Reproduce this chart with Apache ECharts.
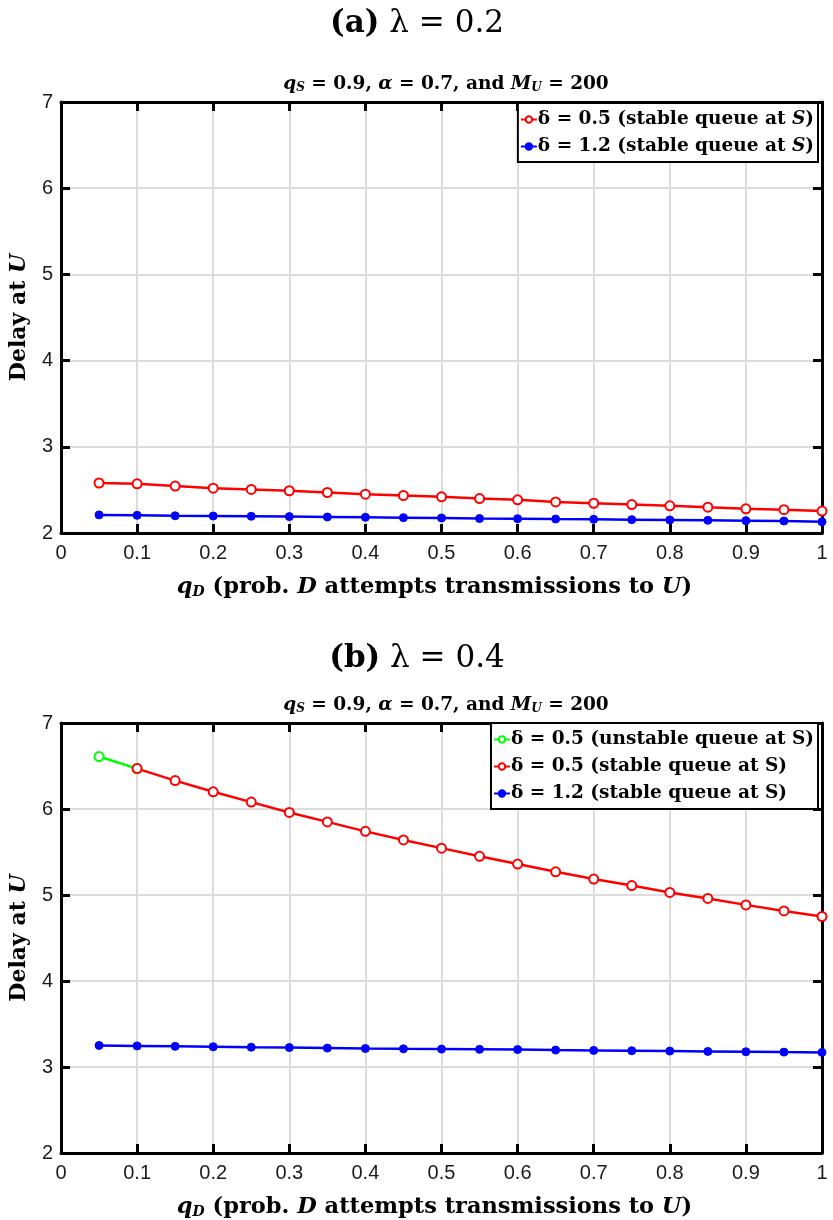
<!DOCTYPE html>
<html><head><meta charset="utf-8">
<script src="https://cdn.jsdelivr.net/npm/echarts@6/dist/echarts.min.js"></script>
<style>html,body{margin:0;padding:0;background:#fff}#c{width:833px;height:1220px}</style>
</head><body><div id="c"></div>
<script>
const qD = [0.05,0.10,0.15,0.20,0.25,0.30,0.35,0.40,0.45,0.50,0.55,0.60,0.65,0.70,0.75,0.80,0.85,0.90,0.95,1.00];
// (a) lambda = 0.2
const aRedDelay  = [2.58,2.57,2.545,2.52,2.505,2.49,2.47,2.45,2.435,2.42,2.40,2.385,2.36,2.345,2.33,2.315,2.30,2.28,2.27,2.255];
const aBlueDelay = [2.21,2.205,2.20,2.197,2.194,2.19,2.186,2.182,2.178,2.174,2.168,2.166,2.162,2.159,2.155,2.151,2.147,2.143,2.139,2.13];
// (b) lambda = 0.4
const bGreenQ     = [0.05,0.10];
const bGreenDelay = [6.61,6.47];
const bRedQ       = [0.10,0.15,0.20,0.25,0.30,0.35,0.40,0.45,0.50,0.55,0.60,0.65,0.70,0.75,0.80,0.85,0.90,0.95,1.00];
const bRedDelay   = [6.47,6.33,6.20,6.08,5.96,5.85,5.74,5.64,5.545,5.45,5.36,5.27,5.185,5.11,5.03,4.96,4.885,4.815,4.75];
const bBlueDelay  = [3.25,3.245,3.24,3.235,3.23,3.226,3.22,3.215,3.211,3.208,3.205,3.203,3.197,3.193,3.189,3.185,3.181,3.177,3.173,3.17];
const yTicks = [2,3,4,5,6,7];
const xTicks = ['0','0.1','0.2','0.3','0.4','0.5','0.6','0.7','0.8','0.9','1'];

const SERIF = '"DejaVu Serif", "Liberation Serif", serif';
const SANS = '"Liberation Sans", Arial, sans-serif';
const zip = (xs, ys) => xs.map((x, i) => [x, ys[i]]);

const chart = echarts.init(document.getElementById('c'), null, {renderer: 'canvas'});

const grids = [
  {left: 57, right: 11, top: 102, height: 431},
  {left: 57, right: 11, top: 723, height: 430}
];

const mathRich = {
  b: {fontFamily: SERIF, fontWeight: 'bold', fontSize: 22.5, color: '#000'},
  i: {fontFamily: SERIF, fontStyle: 'italic', fontWeight: 'bold', fontSize: 22.5, color: '#000'},
  s: {fontFamily: SERIF, fontStyle: 'italic', fontWeight: 'bold', fontSize: 14, color: '#000', verticalAlign: 'bottom', padding: [9, 0, 0, 0]}
};

function xAxes(gi) {
  const base = {
    type: 'value', gridIndex: gi, min: 0, max: 1, interval: 0.1,
    axisLine: {show: true, onZero: false, lineStyle: {color: '#000', width: 3}},
    axisTick: {show: true, inside: true, length: 9, lineStyle: {color: '#000', width: 3}}
  };
  return [
    Object.assign({}, base, {
      position: 'bottom',
      axisLabel: {show: true, margin: 10, fontFamily: SANS, fontSize: 20, color: '#1a1a1a',
        formatter: v => xTicks[Math.round(v * 10)]},
      splitLine: {show: true, lineStyle: {color: '#dcdcdc', width: 2}},
      name: '{i|q}{s|D}{b| (prob. }{i|D}{b| attempts transmissions to }{i|U}{b|)}',
      nameLocation: 'middle', nameGap: 43,
      nameTextStyle: {rich: mathRich, padding: [0, 14, 0, 0]}
    }),
    Object.assign({}, base, {position: 'top', axisLabel: {show: false}, splitLine: {show: false}})
  ];
}
function yAxes(gi) {
  const base = {
    type: 'value', gridIndex: gi, min: 2, max: 7, interval: 1,
    axisLine: {show: true, onZero: false, lineStyle: {color: '#000', width: 3}},
    axisTick: {show: true, inside: true, length: 9, lineStyle: {color: '#000', width: 3}}
  };
  return [
    Object.assign({}, base, {
      position: 'left',
      axisLabel: {show: true, margin: 8, fontFamily: SANS, fontSize: 20, color: '#1a1a1a',
        formatter: v => String(yTicks[Math.round(v) - 2])},
      splitLine: {show: true, lineStyle: {color: '#dcdcdc', width: 2}},
      name: '{b|Delay at }{i|U}',
      nameLocation: 'middle', nameGap: 31, nameRotate: 90,
      nameTextStyle: {rich: {
        b: {fontFamily: SERIF, fontWeight: 'bold', fontSize: 22, color: '#000'},
        i: {fontFamily: SERIF, fontStyle: 'italic', fontWeight: 'bold', fontSize: 22, color: '#000'}
      }}
    }),
    Object.assign({}, base, {position: 'right', axisLabel: {show: false}, splitLine: {show: false}})
  ];
}

function mkSeries(name, data, color, hollow, xi, yi) {
  return {
    name, type: 'line', xAxisIndex: xi, yAxisIndex: yi, data,
    symbol: hollow ? 'emptyCircle' : 'circle',
    symbolSize: hollow ? 9 : 8,
    lineStyle: {color, width: 2.5},
    itemStyle: {color, borderColor: color, borderWidth: hollow ? 2.5 : 1},
    emphasis: {disabled: true},
    animation: false, z: 3
  };
}

const legendText = {
  'aR': '{t|δ = 0.5 (stable queue at }{i|S}{t|)}',
  'aB': '{t|δ = 1.2 (stable queue at }{i|S}{t|)}',
  'bG': '{t|δ = 0.5 (unstable queue at S)}',
  'bR': '{t|δ = 0.5 (stable queue at S)}',
  'bB': '{t|δ = 1.2 (stable queue at S)}'
};
const legRich = {
  t: {fontFamily: SERIF, fontWeight: 'bold', fontSize: 18.5, color: '#000'},
  i: {fontFamily: SERIF, fontWeight: 'bold', fontStyle: 'italic', fontSize: 18.5, color: '#000'}
};
function mkLegend(top, names) {
  return {
    data: names, top, right: 15, orient: 'vertical',
    backgroundColor: '#fff', borderColor: '#000', borderWidth: 2,
    padding: [7, 4, 6, 2], itemGap: 8, itemWidth: 16, itemHeight: 8,
    selectedMode: false,
    formatter: n => legendText[n],
    textStyle: {rich: legRich, padding: [0, 0, 0, -4]}
  };
}

const titleRich = {
  b: {fontFamily: SERIF, fontWeight: 'bold', fontSize: 31, color: '#000'},
  r: {fontFamily: SERIF, fontWeight: 'normal', fontSize: 31, color: '#000'}
};
const subRich = {
  b: {fontFamily: SERIF, fontWeight: 'bold', fontSize: 18.5, color: '#000'},
  i: {fontFamily: SERIF, fontWeight: 'bold', fontStyle: 'italic', fontSize: 18.5, color: '#000'},
  s: {fontFamily: SERIF, fontWeight: 'bold', fontStyle: 'italic', fontSize: 12, color: '#000', verticalAlign: 'bottom', padding: [7, 0, 0, 0]}
};
const subText = '{i|q}{s|S}{b| = 0.9, }{i|α}{b| = 0.7, and }{i|M}{s|U}{b| = 200}';

chart.setOption({
  animation: false,
  backgroundColor: '#fff',
  title: [
    {text: '{b|(a)}{r| λ = 0.2}', left: 412, textAlign: 'center', top: 3, textStyle: {rich: titleRich}},
    {text: subText, left: 441, textAlign: 'center', top: 70, textStyle: {rich: subRich}},
    {text: '{b|(b)}{r| λ = 0.4}', left: 412, textAlign: 'center', top: 638, textStyle: {rich: titleRich}},
    {text: subText, left: 441, textAlign: 'center', top: 691, textStyle: {rich: subRich}}
  ],
  grid: grids,
  xAxis: [...xAxes(0), ...xAxes(1)],
  yAxis: [...yAxes(0), ...yAxes(1)],
  legend: [mkLegend(103, ['aR', 'aB']), mkLegend(723, ['bG', 'bR', 'bB'])],
  series: [
    mkSeries('aR', zip(qD, aRedDelay), '#ff0000', true, 0, 0),
    mkSeries('aB', zip(qD, aBlueDelay), '#0000ff', false, 0, 0),
    mkSeries('bG', zip(bGreenQ, bGreenDelay), '#00ff00', true, 2, 2),
    mkSeries('bR', zip(bRedQ, bRedDelay), '#ff0000', true, 2, 2),
    mkSeries('bB', zip(qD, bBlueDelay), '#0000ff', false, 2, 2)
  ]
});
</script>
</body></html>
